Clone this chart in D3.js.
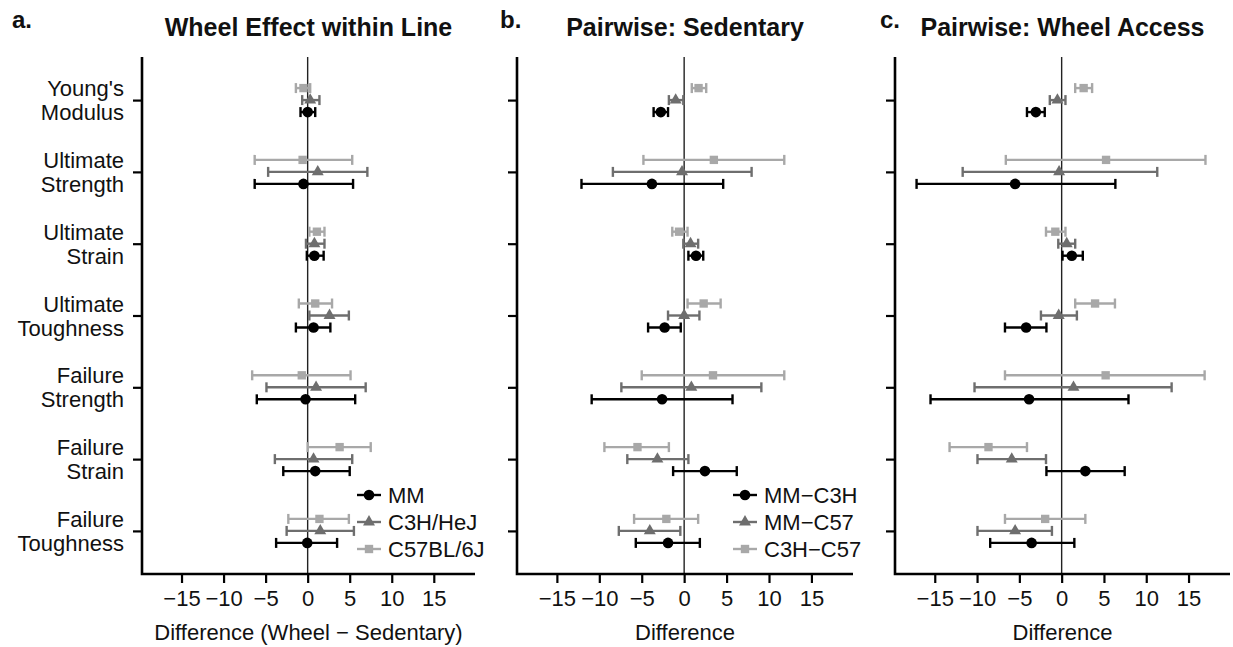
<!DOCTYPE html>
<html>
<head>
<meta charset="utf-8">
<script src="https://cdn.jsdelivr.net/npm/d3@7"></script>
<style>
  body { margin: 0; background: #fff; }
  text { font-family: "Liberation Sans", Arial, Helvetica, sans-serif; fill: #111; }
</style>
</head>
<body>
<div id="chart"></div>
<script>
// measures on the y axis (two lines each)
var measures = [
  ["Young's", "Modulus"],
  ["Ultimate", "Strength"],
  ["Ultimate", "Strain"],
  ["Ultimate", "Toughness"],
  ["Failure", "Strength"],
  ["Failure", "Strain"],
  ["Failure", "Toughness"]
];
var xTicks = [-15, -10, -5, 0, 5, 10, 15];

// each row: [estimate, lower, upper]
// panel a: wheel effect within line
var wheelMM  = [[0.0, -0.85, 0.9], [-0.5, -6.3, 5.4], [0.8, -0.1, 1.9], [0.7, -1.4, 2.7], [-0.25, -6.05, 5.65], [0.9, -2.9, 5.0], [-0.05, -3.75, 3.5]];
var wheelC3H = [[0.3, -0.65, 1.4], [1.2, -4.7, 7.1], [0.8, -0.2, 2.0], [2.6, 0.2, 4.9], [1.0, -4.9, 6.9], [0.7, -3.9, 5.3], [1.5, -2.5, 5.5]];
var wheelC57 = [[-0.5, -1.4, 0.3], [-0.6, -6.3, 5.3], [1.1, 0.2, 2.0], [0.9, -1.05, 2.9], [-0.7, -6.6, 5.1], [3.8, 0.0, 7.5], [1.4, -2.3, 4.9]];

// panel b: pairwise, sedentary
var sedMMC3H  = [[-2.75, -3.6, -1.9], [-3.8, -12.1, 4.6], [1.4, 0.5, 2.25], [-2.3, -4.25, -0.4], [-2.6, -10.9, 5.7], [2.45, -1.3, 6.2], [-1.9, -5.7, 1.85]];
var sedMMC57  = [[-1.0, -1.8, -0.1], [-0.25, -8.4, 7.95], [0.75, -0.1, 1.65], [0.0, -1.9, 1.8], [0.85, -7.4, 9.1], [-3.15, -6.7, 0.5], [-4.05, -7.7, -0.45]];
var sedC3HC57 = [[1.7, 0.9, 2.6], [3.5, -4.8, 11.8], [-0.6, -1.4, 0.4], [2.3, 0.4, 4.3], [3.4, -5.0, 11.8], [-5.5, -9.4, -1.8], [-2.1, -5.9, 1.65]];

// panel c: pairwise, wheel access
var whlMMC3H  = [[-3.05, -4.1, -2.0], [-5.5, -17.15, 6.35], [1.2, 0.1, 2.5], [-4.2, -6.7, -1.8], [-3.85, -15.5, 7.9], [2.8, -1.8, 7.45], [-3.55, -8.45, 1.5]];
var whlMMC57  = [[-0.5, -1.4, 0.45], [-0.3, -11.7, 11.3], [0.6, -0.4, 1.6], [-0.35, -2.45, 1.8], [1.4, -10.3, 13.0], [-5.9, -9.95, -1.85], [-5.5, -9.95, -1.15]];
var whlC3HC57 = [[2.6, 1.6, 3.6], [5.25, -6.6, 17.0], [-0.75, -1.85, 0.45], [3.95, 1.6, 6.3], [5.2, -6.7, 16.9], [-8.65, -13.25, -4.1], [-1.95, -6.7, 2.8]];

var w = 1233, h = 647;
var plotTop = 57, plotBottom = 574;
var colors = ["#000000", "#6e6e6e", "#a8a8a8"];
var shapes = ["circle", "triangle", "square"];
var dodge = [12, 0, -12];

var panels = [
  {x0: 142, x1: 475, letter: "a.", title: "Wheel Effect within Line", xlab: "Difference (Wheel \u2212 Sedentary)",
   series: [wheelMM, wheelC3H, wheelC57], names: ["MM", "C3H/HeJ", "C57BL/6J"], ylabels: true, legendX: 357},
  {x0: 517, x1: 853, letter: "b.", title: "Pairwise: Sedentary", xlab: "Difference",
   series: [sedMMC3H, sedMMC57, sedC3HC57], names: ["MM\u2212C3H", "MM\u2212C57", "C3H\u2212C57"], ylabels: false, legendX: 733},
  {x0: 895, x1: 1230, letter: "c.", title: "Pairwise: Wheel Access", xlab: "Difference",
   series: [whlMMC3H, whlMMC57, whlC3HC57], names: null, ylabels: false}
];

var svg = d3.select("#chart").append("svg").attr("width", w).attr("height", h);

function drawMarker(g, shape, x, y, color) {
  if (shape == "circle") {
    g.append("circle").attr("cx", x).attr("cy", y).attr("r", 5.3).style("fill", color);
  } else {
    var sym = shape == "triangle" ? d3.symbolTriangle : d3.symbolSquare;
    var size = shape == "triangle" ? 62 : 70;
    g.append("path").attr("d", d3.symbol().type(sym).size(size)())
      .attr("transform", "translate(" + x + "," + y + ")").style("fill", color);
  }
}

var letterX = [12, 500, 880];

panels.forEach(function(p, pi) {
  var xScale = d3.scaleLinear().domain([-19.7, 19.9]).range([p.x0, p.x1]);
  var yScale = d3.scalePoint().domain(measures.map(function(m) { return m.join(" "); }))
    .range([plotTop, plotBottom]).padding(0.6);

  // panel letter and title
  svg.append("text").attr("x", letterX[pi]).attr("y", 28).text(p.letter)
    .style("font-size", "24px").style("font-weight", "bold");
  svg.append("text").attr("x", (p.x0 + p.x1) / 2).attr("y", 36).attr("text-anchor", "middle")
    .text(p.title).style("font-size", "25px").style("font-weight", "bold");

  // zero reference line
  svg.append("line").attr("x1", xScale(0)).attr("x2", xScale(0)).attr("y1", plotTop).attr("y2", plotBottom)
    .style("stroke", "#222").style("stroke-width", 1.4);

  // x axis
  var xAxis = d3.axisBottom(xScale).tickValues(xTicks).tickSize(9).tickSizeOuter(0).tickPadding(7)
    .tickFormat(function(d) { return d < 0 ? "\u2212" + Math.abs(d) : d; });
  var gx = svg.append("g").attr("transform", "translate(0," + plotBottom + ")").call(xAxis);
  gx.select(".domain").remove();
  gx.selectAll(".tick line").style("stroke", "#000").style("stroke-width", 2.2);
  gx.selectAll(".tick text").style("font-size", "22px").style("font-family", "Liberation Sans, Arial, sans-serif").style("fill", "#111");

  // y axis
  var yAxis = d3.axisLeft(yScale).tickSize(9).tickSizeOuter(0).tickFormat("");
  var gy = svg.append("g").attr("transform", "translate(" + p.x0 + ",0)").call(yAxis);
  gy.select(".domain").remove();
  gy.selectAll(".tick line").style("stroke", "#000").style("stroke-width", 2.2);

  // axis lines
  svg.append("path").attr("d", "M" + p.x0 + "," + plotTop + "V" + plotBottom + "H" + p.x1)
    .style("fill", "none").style("stroke", "#000").style("stroke-width", 2.6);

  if (p.ylabels) {
    measures.forEach(function(m) {
      var yy = yScale(m.join(" "));
      var t = svg.append("text").attr("text-anchor", "end").style("font-size", "22px");
      t.append("tspan").attr("x", p.x0 - 18).attr("y", yy - 4).text(m[0]);
      t.append("tspan").attr("x", p.x0 - 18).attr("y", yy + 20).text(m[1]);
    });
  }

  svg.append("text").attr("x", (p.x0 + p.x1) / 2).attr("y", 640).attr("text-anchor", "middle")
    .text(p.xlab).style("font-size", "22px");

  // point ranges, drawn light to dark
  for (var s = 2; s >= 0; s--) {
    var g = svg.append("g");
    p.series[s].forEach(function(d, i) {
      var yy = yScale(measures[i].join(" ")) + dodge[s];
      var xl = xScale(d[1]), xh = xScale(d[2]);
      g.append("line").attr("x1", xl).attr("x2", xh).attr("y1", yy).attr("y2", yy)
        .style("stroke", colors[s]).style("stroke-width", 2.4);
      [xl, xh].forEach(function(xc) {
        g.append("line").attr("x1", xc).attr("x2", xc).attr("y1", yy - 5).attr("y2", yy + 5)
          .style("stroke", colors[s]).style("stroke-width", 2.4);
      });
      drawMarker(g, shapes[s], xScale(d[0]), yy, colors[s]);
    });
  }

  // legend
  if (p.names) {
    var legendY = [495, 522, 549];
    p.names.forEach(function(name, s) {
      var lg = svg.append("g");
      lg.append("line").attr("x1", p.legendX).attr("x2", p.legendX + 24)
        .attr("y1", legendY[s]).attr("y2", legendY[s])
        .style("stroke", colors[s]).style("stroke-width", 2.4);
      drawMarker(lg, shapes[s], p.legendX + 12, legendY[s], colors[s]);
      lg.append("text").attr("x", p.legendX + 31).attr("y", legendY[s] + 8)
        .text(name).style("font-size", "22px");
    });
  }
});
</script>
</body>
</html>
